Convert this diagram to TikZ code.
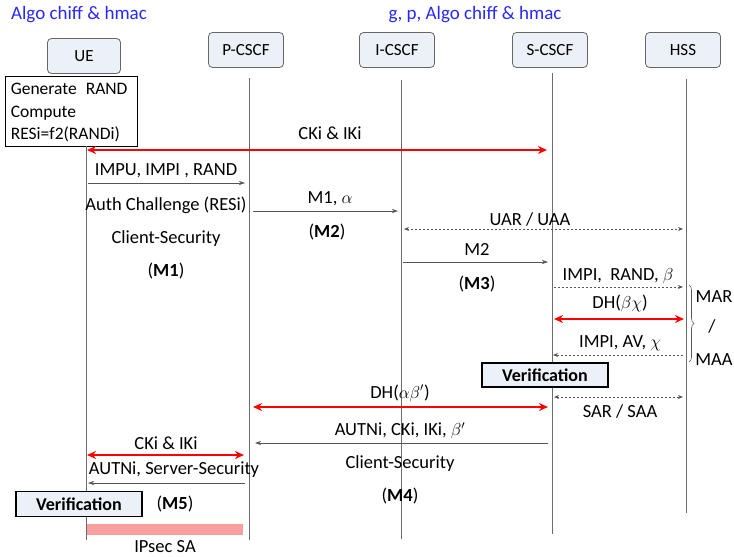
\documentclass[tikz,border=0pt]{standalone}
\usepackage{fontspec}
\setmainfont{Carlito}
\usetikzlibrary{arrows.meta,decorations.pathreplacing}
\definecolor{hdrfill}{RGB}{236,241,248}
\definecolor{ipsecfill}{RGB}{248,160,160}
\definecolor{linegray}{RGB}{85,85,85}
\definecolor{algoblue}{RGB}{40,40,255}
\tikzset{
  entity/.style={draw=gray!80!black,rounded corners=4pt,fill=hdrfill,line width=0.8pt,
    minimum width=75pt,minimum height=35pt,font=\fontsize{17}{19}\selectfont},
  life/.style={draw=gray!85!black,line width=0.9pt},
  msg/.style={draw=linegray,line width=0.6pt,-{Stealth[length=6pt,width=4pt]}},
  diam/.style={draw=linegray,line width=0.8pt,dash pattern=on 2pt off 2pt,
    {Stealth[length=5pt,width=4pt]}-{Stealth[length=5pt,width=4pt]}},
  diamto/.style={draw=linegray,line width=0.8pt,dash pattern=on 2pt off 2pt,
    -{Stealth[length=5pt,width=4pt]}},
  keyx/.style={draw=red,line width=2.2pt,
    {Stealth[length=9pt,width=8pt]}-{Stealth[length=9pt,width=8pt]}},
  lbl/.style={font=\fontsize{18.5}{20}\selectfont,inner sep=1pt},
  algo/.style={font=\fontsize{19}{21}\selectfont,text=algoblue,inner sep=1pt},
  verif/.style={draw=black,line width=1.6pt,fill=hdrfill,minimum width=126pt,
    minimum height=24pt,inner sep=1pt,font=\fontsize{18}{20}\selectfont\bfseries},
}
\begin{document}
\begin{tikzpicture}[x=1pt,y=-1pt]
\useasboundingbox (0,0) rectangle (734,557);

% algorithms
\node[algo] (algoue) at (79,15) {Algo chiff \& hmac};
\node[algo] (algonet) at (475,15) {g, p, Algo chiff \& hmac};

% entities
\node[entity,minimum width=73pt] (ue) at (84,56) {UE};
\node[entity] (pcscf) at (246,50) {P-CSCF};
\node[entity] (icscf) at (397,50) {I-CSCF};
\node[entity] (scscf) at (550,50) {S-CSCF};
\node[entity] (hss) at (683,50) {HSS};

\node[draw,line width=0.8pt,fill=white,minimum width=132pt,minimum height=70pt] (gen) at (71,111) {};
\node[anchor=west,align=left,inner sep=0pt,font=\fontsize{17.5}{22.5}\selectfont] (gentxt)
  at ([xshift=6pt,yshift=-2pt]gen.west) {Generate\hspace{9pt}RAND\\Compute\\RESi=f2(RANDi)};

% lifelines
\coordinate (ue-top) at (86,146);   \coordinate (ue-bot) at (86,540);
\coordinate (pc-top) at (249,78);   \coordinate (pc-bot) at (249,540);
\coordinate (ic-top) at (401,80);   \coordinate (ic-bot) at (401,539);
\coordinate (sc-top) at (552,73);   \coordinate (sc-bot) at (552,534);
\coordinate (hss-top) at (686,79);  \coordinate (hss-bot) at (686,513);
\draw[life] (ue-top) -- (ue-bot);
\draw[life] (pc-top) -- (pc-bot);
\draw[life] (ic-top) -- (ic-bot);
\draw[life] (sc-top) -- (sc-bot);
\draw[life] (hss-top) -- (hss-bot);

% keys UE -- S-CSCF
\coordinate (ck1a) at (87,150); \coordinate (ck1b) at (547,150);
\draw[keyx] (ck1a) -- (ck1b);
\node[lbl] (ck1) at (330,133) {CKi \& IKi};

% M1
\coordinate (m1a) at (88,183); \coordinate (m1b) at (245,183);
\draw[msg] (m1a) -- (m1b);
\node[lbl] (m1) at (166,171) {IMPU, IMPI , RAND};
\node[lbl] (auth) at (166,205) {Auth Challenge (RESi)};
\node[lbl] (cs1) at (166,239) {Client-Security};
\node[lbl] (m1n) at (166,271) {(\textbf{M1})};

% M2
\coordinate (m2a) at (253,211); \coordinate (m2b) at (398,211);
\draw[msg] (m2a) -- (m2b);
\node[lbl] (m2) at (330,199) {M1, $\alpha$};
\node[lbl] (m2n) at (327,232) {(\textbf{M2})};

% UAR / UAA
\coordinate (uara) at (404,229); \coordinate (uarb) at (683,229);
\draw[diam] (uara) -- (uarb);
\node[lbl] (uar) at (530,219) {UAR / UAA};

% M3
\coordinate (m3a) at (403,262); \coordinate (m3b) at (548,262);
\draw[msg] (m3a) -- (m3b);
\node[lbl] (m3) at (477,249) {M2};
\node[lbl] (m3n) at (477,284) {(\textbf{M3})};

% MAR / MAA
\coordinate (mara) at (554,287); \coordinate (marb) at (683,287);
\draw[diamto] (mara) -- (marb);
\node[lbl] (mar) at (618,276) {IMPI,\ \ RAND, $\beta$};

\coordinate (dh1a) at (554,319); \coordinate (dh1b) at (684,319);
\draw[keyx] (dh1a) -- (dh1b);
\node[lbl] (dh1) at (620,303) {DH($\beta\chi$)};

\coordinate (maaa) at (683,355); \coordinate (maab) at (553,355);
\draw[diamto] (maaa) -- (maab);
\node[lbl] (maa) at (620,343) {IMPI, AV, $\chi$};

\coordinate (bra) at (689,285); \coordinate (brb) at (689,362);
\draw[gray!70!black,line width=0.6pt,decorate,decoration={brace,amplitude=5pt}] (bra) -- (brb);
\node[lbl] (marlbl) at (714,297) {MAR};
\node[lbl] (slash) at (712,326) {/};
\node[lbl] (maalbl) at (714,360) {MAA};

\node[verif] (verifsc) at (545,375) {Verification};

% DH P-CSCF -- S-CSCF
\coordinate (dh2a) at (253,407); \coordinate (dh2b) at (548,407);
\draw[keyx] (dh2a) -- (dh2b);
\node[lbl] (dh2) at (400,393) {DH($\alpha\beta'$)};

% SAR / SAA
\coordinate (sara) at (554,397); \coordinate (sarb) at (683,397);
\draw[diam] (sara) -- (sarb);
\node[lbl] (sar) at (620,411) {SAR / SAA};

% M4
\coordinate (m4a) at (548,443); \coordinate (m4b) at (255,443);
\draw[msg] (m4a) -- (m4b);
\node[lbl] (m4) at (400,431) {AUTNi, CKi, IKi, $\beta'$};
\node[lbl] (cs4) at (400,464) {Client-Security};
\node[lbl] (m4n) at (400,496) {(\textbf{M4})};

% keys UE -- P-CSCF
\coordinate (ck2a) at (87,455); \coordinate (ck2b) at (244,455);
\draw[keyx] (ck2a) -- (ck2b);
\node[lbl] (ck2) at (166,443) {CKi \& IKi};

% M5
\coordinate (m5a) at (245,483); \coordinate (m5b) at (88,483);
\draw[msg] (m5a) -- (m5b);
\node[lbl] (m5) at (174,470) {AUTNi, Server-Security};
\node[verif,minimum height=25pt] (verifue) at (79,504) {Verification};
\node[lbl] (m5n) at (175,504) {(\textbf{M5})};

% IPsec SA
\fill[ipsecfill] (87,524) rectangle (243,535);
\node[lbl] (ipsec) at (165,547) {IPsec SA};
\end{tikzpicture}
\end{document}
